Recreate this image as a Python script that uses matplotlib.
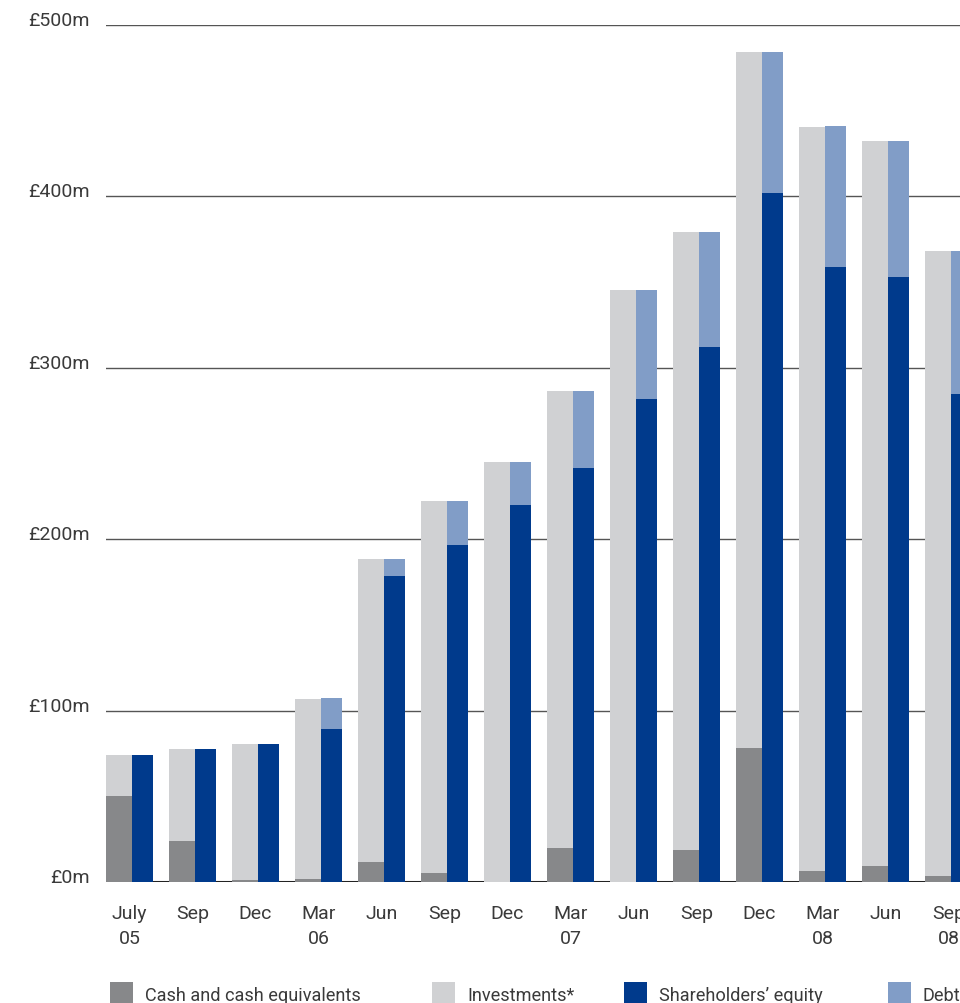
import matplotlib
matplotlib.use("Agg")
import matplotlib.pyplot as plt
from matplotlib.patches import Rectangle
import numpy as np

# ---- data (GBP millions) ----
periods = ["July\n05", "Sep", "Dec", "Mar\n06", "Jun", "Sep", "Dec",
           "Mar\n07", "Jun", "Sep", "Dec", "Mar\n08", "Jun", "Sep\n08"]
cash = [50.0, 24.0, 1.0, 1.5, 11.7, 5.3, 0.0, 19.8, 0.0, 18.7, 78.2, 6.4, 9.3, 3.5]
investments = [24.0, 53.6, 79.5, 105.3, 176.7, 216.7, 245.0, 266.7, 345.4, 360.3,
               405.8, 434.1, 423.0, 364.5]
equity = [74.0, 77.6, 80.5, 89.3, 178.5, 196.6, 220.0, 241.5, 281.8, 312.0,
          402.0, 358.8, 353.0, 285.0]
debt = [0.0, 0.0, 0.0, 18.0, 10.0, 25.4, 25.0, 45.0, 63.6, 67.0, 82.0, 82.2, 79.3, 83.0]
yticks = [0, 100, 200, 300, 400, 500]
ytick_labels = ["£0m", "£100m", "£200m", "£300m", "£400m", "£500m"]
legend_labels = ["Cash and cash equivalents", "Investments*",
                 "Shareholders\u2019 equity", "Debt"]

C_CASH = "#87888a"
C_INV = "#d0d1d3"
C_EQ = "#003a8c"
C_DEBT = "#819dc7"
TXT = "#3a3a3a"

plt.rcParams["font.family"] = ["Roboto", "DejaVu Sans"]

W, H = 960, 1004
fig = plt.figure(figsize=(W / 100, H / 100), dpi=100)
fig.patch.set_facecolor("white")

step = 63.0
ax = fig.add_axes([106 / W, 121 / H, step * 14 / W, 857 / H])
ax.set_xlim(0, 14)
ax.set_ylim(0, 500)

x = np.arange(len(periods))
wl = 26 / step
wr = 21 / step
ax.bar(x, cash, width=wl, align="edge", color=C_CASH, zorder=2, linewidth=0)
ax.bar(x, investments, width=wl, bottom=cash, align="edge", color=C_INV, zorder=2, linewidth=0)
ax.bar(x + wl, equity, width=wr, align="edge", color=C_EQ, zorder=2, linewidth=0)
ax.bar(x + wl, debt, width=wr, bottom=equity, align="edge", color=C_DEBT, zorder=2, linewidth=0)

for s in ax.spines.values():
    s.set_visible(False)

ax.set_yticks(yticks)
ax.set_yticklabels(ytick_labels)
ax.yaxis.grid(True, color="#555555", linewidth=1.0, zorder=0)
ax.set_axisbelow(True)
ax.axhline(0, color="#222222", linewidth=2.2, zorder=1)
ax.tick_params(axis="y", length=0, pad=12, labelsize=14, labelcolor=TXT)
for lab in ax.get_yticklabels():
    lab.set_verticalalignment("baseline")

ax.set_xticks(x + (wl + wr) / 2)
ax.set_xticklabels(periods, linespacing=1.5)
ax.tick_params(axis="x", length=0, pad=16, labelsize=14, labelcolor=TXT)

# legend (bottom, partially cut by the figure edge)
leg_colors = [C_CASH, C_INV, C_EQ, C_DEBT]
leg_x = [110, 432, 624, 888]
for lx, col, lab in zip(leg_x, leg_colors, legend_labels):
    fig.add_artist(Rectangle((lx / W, -10 / H), 23 / W, 31 / H,
                             transform=fig.transFigure, color=col, linewidth=0))
    fig.text((lx + 35) / W, 3 / H, lab, fontsize=13.1, color=TXT, va="baseline", ha="left")

fig.savefig("out.png", dpi=100)
